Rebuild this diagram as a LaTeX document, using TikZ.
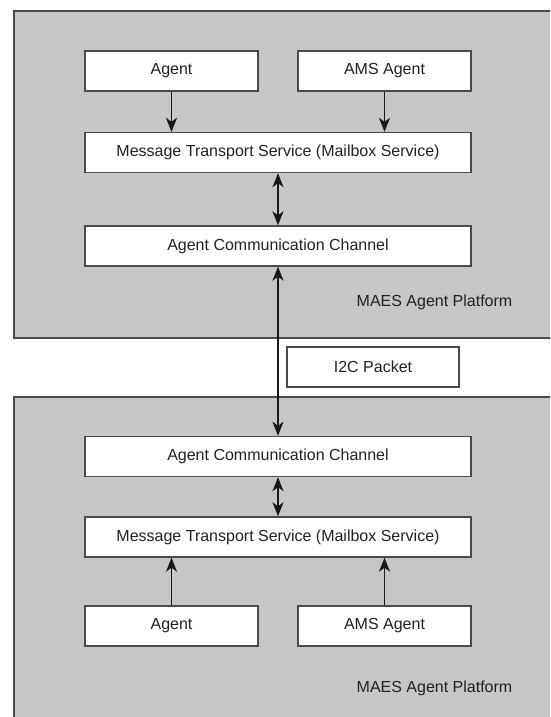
\documentclass[tikz,border=0pt]{standalone}
\usepackage{fontspec}
\setmainfont{Liberation Sans}
\usetikzlibrary{calc,arrows.meta}

\definecolor{platformgray}{HTML}{C5C6C8}
\definecolor{edgegray}{HTML}{4A4A4A}
\definecolor{textgray}{HTML}{222222}

\tikzset{
  box/.style={draw=edgegray, line width=1.4pt, fill=white, text=textgray,
    minimum height=40pt, inner sep=0pt, font=\fontsize{16}{19}\selectfont},
  smallbox/.style={box, minimum width=173pt},
  widebox/.style={box, minimum width=386pt},
  platform/.style={draw=edgegray, line width=1.2pt, fill=platformgray},
  platlabel/.style={text=textgray, font=\fontsize{16}{19}\selectfont},
  tip/.style={Stealth[length=14pt,width=11pt,inset=4pt]},
  link/.style={draw=black!90, line width=1.4pt, -{Stealth[length=14pt,width=11pt,inset=4pt]}},
  duplex/.style={link, {Stealth[length=14pt,width=11pt,inset=4pt]}-{Stealth[length=14pt,width=11pt,inset=4pt]}}
}

\begin{document}
\begin{tikzpicture}[x=1pt, y=-1pt]
  \useasboundingbox (0,0) rectangle (550,717);
  \clip (0,0) rectangle (550,717);

  % the two platforms run off the right (and lower) edge
  \draw[platform] (14,11) rectangle (570,338);
  \draw[platform] (14,397) rectangle (570,740);

  \coordinate (agent_top) at (171.5,71);
  \coordinate (ams_top) at (384.5,71);
  \coordinate (mts_top) at (278,152.5);
  \coordinate (acc_top) at (278,246);
  \coordinate (packet) at (373,367);
  \coordinate (acc_bot) at (278,456.5);
  \coordinate (mts_bot) at (278,537);
  \coordinate (agent_bot) at (171.5,626);
  \coordinate (ams_bot) at (384.5,626);

  % upper platform
  \node[smallbox] (a1) at (agent_top) {Agent};
  \node[smallbox] (ams1) at (ams_top) {AMS Agent};
  \node[widebox] (mts1) at (mts_top) {Message Transport Service (Mailbox Service)};
  \node[widebox] (acc1) at (acc_top) {Agent Communication Channel};
  \node[platlabel] (plat1) at (434.5,302) {MAES Agent Platform};

  % packet in between
  \node[box, minimum width=172pt] (i2c) at (packet) {I2C Packet};

  % lower platform
  \node[widebox] (acc2) at (acc_bot) {Agent Communication Channel};
  \node[widebox] (mts2) at (mts_bot) {Message Transport Service (Mailbox Service)};
  \node[smallbox] (a2) at (agent_bot) {Agent};
  \node[smallbox] (ams2) at (ams_bot) {AMS Agent};
  \node[platlabel] (plat2) at (434.5,688) {MAES Agent Platform};

  \draw[link] (a1) -- (a1 |- mts1.north);
  \draw[link] (ams1) -- (ams1 |- mts1.north);
  \draw[duplex] (mts1) -- (acc1);
  \draw[duplex] (acc1) -- (acc2);
  \draw[duplex] (acc2) -- (mts2);
  \draw[link] (a2) -- (a2 |- mts2.south);
  \draw[link] (ams2) -- (ams2 |- mts2.south);
\end{tikzpicture}
\end{document}
